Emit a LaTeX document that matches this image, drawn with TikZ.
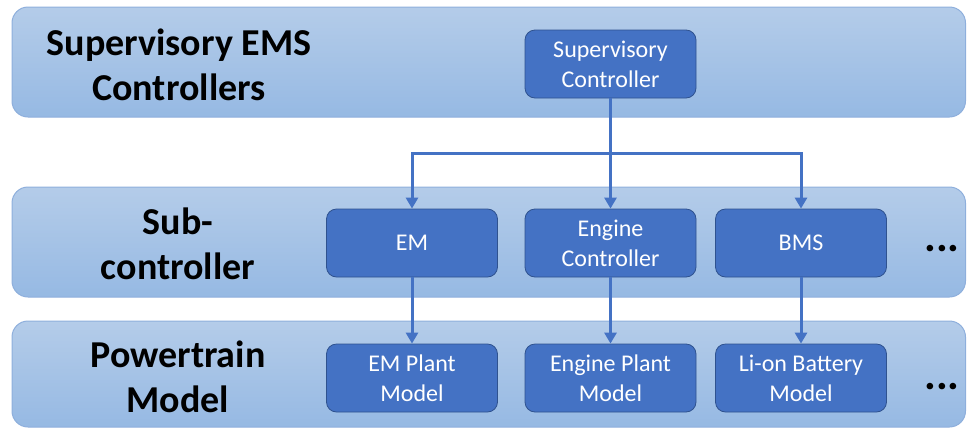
\documentclass[tikz,border=0pt]{standalone}
\usepackage{fontspec}
\setmainfont{Carlito}
\usetikzlibrary{arrows.meta}
\definecolor{boxblue}{HTML}{4472C4}
\definecolor{boxedge}{HTML}{2F528F}
\definecolor{bandtop}{HTML}{B4CCE9}
\definecolor{bandbot}{HTML}{96B9E3}
\definecolor{bandedge}{HTML}{8EAFDC}
\tikzset{
  band/.style={draw=bandedge, line width=1pt, rounded corners=16pt, top color=bandtop, bottom color=bandbot},
  blk/.style={draw=boxedge, line width=0.8pt, fill=boxblue, rounded corners=10pt, minimum width=171pt, minimum height=68pt, text=white, font=\fontsize{24}{30}\selectfont, align=center, inner sep=0pt},
  lbl/.style={font=\fontsize{38}{45}\selectfont\bfseries, align=center, text=black},
  dots/.style={font=\fontsize{44}{50}\selectfont\bfseries, text=black, inner sep=0pt},
  arr/.style={draw=boxblue, line width=3pt, -{Triangle[width=12pt,length=11pt]}}
}
\begin{document}
\begin{tikzpicture}[x=1pt,y=-1pt]
\useasboundingbox (0,0) rectangle (967,429);
% bands
\path[band] (12,7) rectangle (965.5,117);
\path[band] (12,187) rectangle (965.5,297);
\path[band] (12,321) rectangle (965.5,427);
% labels
\node[lbl] (l1) at (179,65) {Supervisory EMS\\Controllers};
\node[lbl] (l2) at (178,244) {Sub-\\controller};
\node[lbl] (l3) at (178,377) {Powertrain\\Model};
% boxes
\node[blk] (sup) at (610.5,64) {Supervisory\\Controller};
\node[blk] (em) at (412,243) {EM};
\node[blk] (eng) at (610.5,243) {Engine\\Controller};
\node[blk] (bms) at (801,243) {BMS};
\node[blk] (emp) at (412,378) {EM Plant\\Model};
\node[blk] (engp) at (610.5,378) {Engine Plant\\Model};
\node[blk] (bat) at (801,378) {Li-on Battery\\Model};
\node[dots, anchor=base] (d1) at (942,251) {...};
\node[dots, anchor=base] (d2) at (942,389) {...};
% connectors
\coordinate (j) at (610.5,153);
\draw[arr] (sup) -- (eng);
\draw[arr, line cap=rect] (j) -| (em);
\draw[arr, line cap=rect] (j) -| (bms);
\draw[arr] (em) -- (emp);
\draw[arr] (eng) -- (engp);
\draw[arr] (bms) -- (bat);
\end{tikzpicture}
\end{document}
